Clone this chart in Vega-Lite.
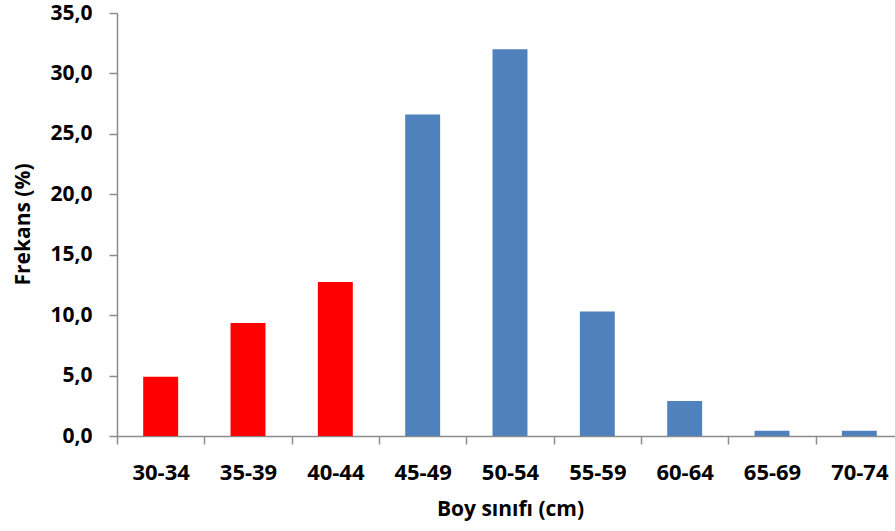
{
  "$schema": "https://vega.github.io/schema/vega-lite/v6.json",
  "autosize": {"type": "none"},
  "padding": {"left": 117, "top": 13, "right": 0, "bottom": 95},
  "width": 778,
  "height": 423,
  "background": "white",
  "config": {
    "view": {"stroke": null},
    "font": "Open Sans",
    "axis": {"grid": false}
  },
  "data": {
    "values": [
      {"sinif": "30-34", "frekans": 4.9, "grup": "a"},
      {"sinif": "35-39", "frekans": 9.35, "grup": "a"},
      {"sinif": "40-44", "frekans": 12.75, "grup": "a"},
      {"sinif": "45-49", "frekans": 26.6, "grup": "b"},
      {"sinif": "50-54", "frekans": 32.0, "grup": "b"},
      {"sinif": "55-59", "frekans": 10.3, "grup": "b"},
      {"sinif": "60-64", "frekans": 2.9, "grup": "b"},
      {"sinif": "65-69", "frekans": 0.44, "grup": "b"},
      {"sinif": "70-74", "frekans": 0.44, "grup": "b"}
    ]
  },
  "mark": {"type": "bar", "width": {"band": 0.4}, "clip": false},
  "encoding": {
    "x": {
      "field": "sinif",
      "type": "nominal",
      "sort": null,
      "scale": {"paddingInner": 0, "paddingOuter": 0, "range": [0, 786]},
      "axis": {
        "title": "Boy sınıfı (cm)",
        "titleFont": "Open Sans",
        "titleFontSize": 21,
        "titleFontWeight": "bold",
        "titleColor": "#000000",
        "titleBaseline": "alphabetic",
        "titleY": 79,
        "labelAngle": 0,
        "labelFont": "Open Sans",
        "labelFontSize": 22,
        "labelFontWeight": "bold",
        "labelColor": "#000000",
        "labelBaseline": "alphabetic",
        "labelPadding": 35,
        "tickBand": "extent",
        "tickSize": 8,
        "tickWidth": 1.5,
        "tickColor": "#8c8c8c",
        "domainColor": "#8c8c8c",
        "domainWidth": 1.5
      }
    },
    "y": {
      "field": "frekans",
      "type": "quantitative",
      "scale": {"domain": [0, 35], "nice": false},
      "axis": {
        "title": "Frekans (%)",
        "titleFont": "Open Sans",
        "titleFontSize": 21,
        "titleFontWeight": "bold",
        "titleColor": "#000000",
        "titleX": -94,
        "titleY": 211,
        "titleAlign": "center",
        "titleBaseline": "middle",
        "titleAngle": -90,
        "values": [0, 5, 10, 15, 20, 25, 30, 35],
        "labelExpr": "replace(format(datum.value, '.1f'), '.', ',')",
        "labelFont": "Open Sans",
        "labelFontSize": 21,
        "labelFontWeight": "bold",
        "labelColor": "#000000",
        "labelPadding": 17,
        "tickSize": 8,
        "tickWidth": 1.5,
        "tickColor": "#8c8c8c",
        "domainColor": "#8c8c8c",
        "domainWidth": 1.5
      }
    },
    "color": {
      "field": "grup",
      "type": "nominal",
      "scale": {"domain": ["a", "b"], "range": ["#ff0000", "#4f81bd"]},
      "legend": null
    }
  }
}
